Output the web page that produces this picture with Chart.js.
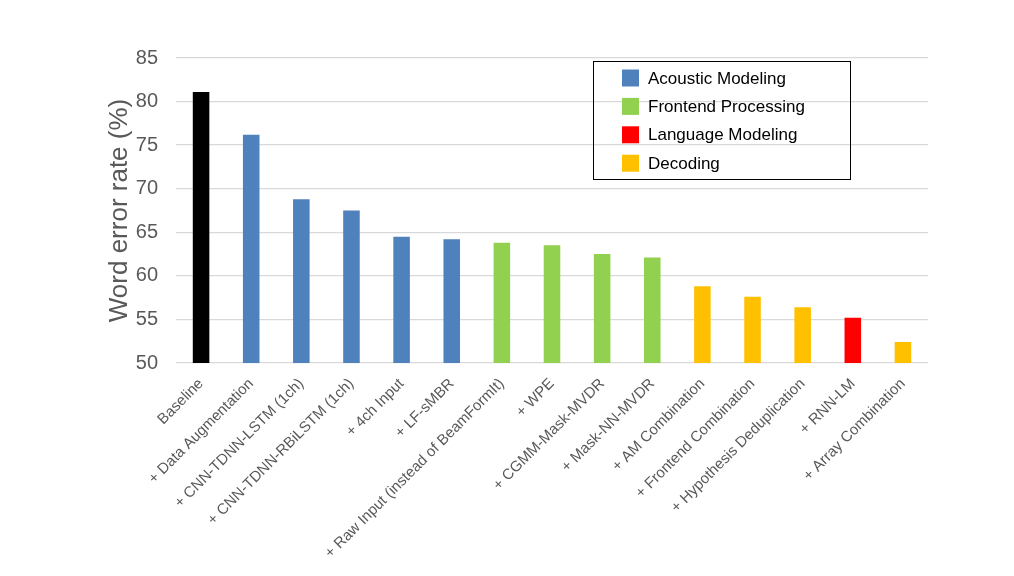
<!DOCTYPE html>
<html>
<head>
<meta charset="utf-8">
<script src="https://cdn.jsdelivr.net/npm/chart.js@4"></script>
<style>
  body { margin: 0; background: #fff; }
</style>
</head>
<body>
<canvas id="chart" width="1014" height="576"></canvas>
<script>
const categories = [
  "Baseline",
  "+ Data Augmentation",
  "+ CNN-TDNN-LSTM (1ch)",
  "+ CNN-TDNN-RBiLSTM (1ch)",
  "+ 4ch Input",
  "+ LF-sMBR",
  "+ Raw Input (instead of BeamFormIt)",
  "+ WPE",
  "+ CGMM-Mask-MVDR",
  "+ Mask-NN-MVDR",
  "+ AM Combination",
  "+ Frontend Combination",
  "+ Hypothesis Deduplication",
  "+ RNN-LM",
  "+ Array Combination"
];

const baseline = [81.1, null, null, null, null, null, null, null, null, null, null, null, null, null, null];
const acousticModeling = [null, 76.2, 68.8, 67.5, 64.5, 64.2, null, null, null, null, null, null, null, null, null];
const frontendProcessing = [null, null, null, null, null, null, 63.8, 63.5, 62.5, 62.1, null, null, null, null, null];
const languageModeling = [null, null, null, null, null, null, null, null, null, null, null, null, null, 55.2, null];
const decoding = [null, null, null, null, null, null, null, null, null, null, 58.8, 57.6, 56.4, null, 52.4];

const yTicks = [50, 55, 60, 65, 70, 75, 80, 85];

const font = "Arial, 'Liberation Sans', sans-serif";
const grey = "#595959";

function bar(label, data, color) {
  return {
    label: label,
    data: data,
    backgroundColor: color,
    grouped: false,
    categoryPercentage: 1,
    barPercentage: 0.33,
    skipNull: true
  };
}

// legend box drawn inside the plot, like the original
const boxLegend = {
  id: "boxLegend",
  afterDraw(chart) {
    const ctx = chart.ctx;
    const items = chart.data.datasets.filter((d) => d.label !== "Baseline");
    const x = 593, y = 61, w = 257, h = 118;
    ctx.save();
    ctx.strokeStyle = "#000";
    ctx.lineWidth = 1;
    ctx.strokeRect(x + 0.5, y + 0.5, w, h);
    ctx.font = "17px " + font;
    ctx.textBaseline = "middle";
    items.forEach((d, i) => {
      const cy = 78 + i * 28.4;
      ctx.fillStyle = d.backgroundColor;
      ctx.fillRect(622, cy - 8.5, 17, 17);
      ctx.fillStyle = "#000";
      ctx.fillText(d.label, 648, cy + 1);
    });
    ctx.restore();
  }
};

const ctx = document.getElementById("chart").getContext("2d");

new Chart(ctx, {
  type: "bar",
  data: {
    labels: categories,
    datasets: [
      bar("Baseline", baseline, "#000000"),
      bar("Acoustic Modeling", acousticModeling, "#4F81BD"),
      bar("Frontend Processing", frontendProcessing, "#92D050"),
      bar("Language Modeling", languageModeling, "#FF0000"),
      bar("Decoding", decoding, "#FFC000")
    ]
  },
  options: {
    responsive: false,
    animation: false,
    layout: { padding: { top: 58, right: 86, left: 104, bottom: 0 } },
    plugins: {
      legend: { display: false },
      tooltip: { enabled: false }
    },
    scales: {
      x: {
        grid: { display: false },
        border: { display: false },
        ticks: {
          color: grey,
          font: { family: font, size: 15 },
          minRotation: 45,
          maxRotation: 45,
          autoSkip: false,
          padding: 4
        },
        afterFit: (scale) => { scale.height = 213; }
      },
      y: {
        min: 50,
        max: 85,
        afterBuildTicks: (scale) => { scale.ticks = yTicks.map((v) => ({ value: v })); },
        grid: { color: "#D9D9D9", lineWidth: 1.3, drawTicks: false },
        border: { display: false },
        ticks: {
          color: grey,
          font: { family: font, size: 20 },
          padding: 18
        },
        title: {
          display: true,
          text: "Word error rate (%)",
          color: grey,
          font: { family: font, size: 26 },
          padding: 0
        },
        afterFit: (scale) => { scale.width = 72; }
      }
    }
  },
  plugins: [boxLegend]
});
</script>
</body>
</html>
